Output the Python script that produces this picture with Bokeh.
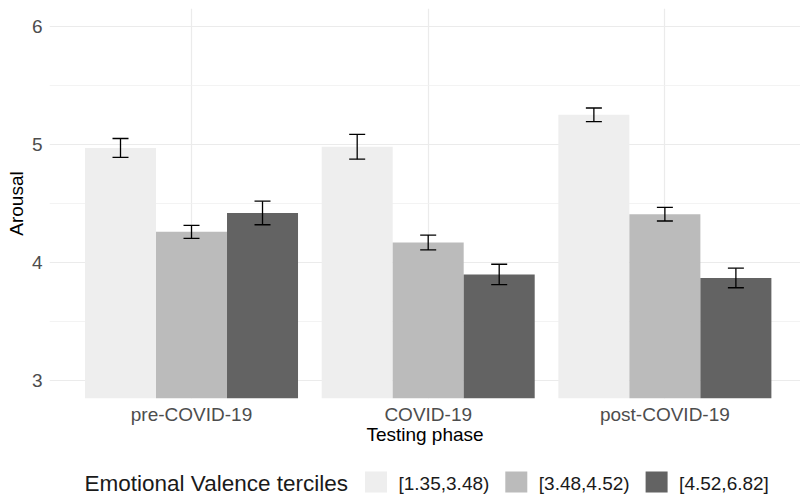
from bokeh.plotting import figure
from bokeh.models import ColumnDataSource, Range1d, FixedTicker, Whisker, TeeHead
from bokeh.layouts import column
from bokeh.embed import file_html
from bokeh.resources import INLINE
from bokeh.core.properties import value

# Testing phases (x categories) and emotional valence terciles (fill groups)
phases = ["pre-COVID-19", "COVID-19", "post-COVID-19"]
terciles = ["[1.35,3.48)", "[3.48,4.52)", "[4.52,6.82]"]
fills = ["#EEEEEE", "#BBBBBB", "#636363"]

# Mean arousal per phase, one list per valence tercile
arousal_low = [4.97, 4.98, 5.25]
arousal_mid = [4.26, 4.17, 4.41]
arousal_high = [4.42, 3.90, 3.87]

# Standard errors of the means
se_low = [0.080, 0.105, 0.058]
se_mid = [0.055, 0.063, 0.058]
se_high = [0.100, 0.086, 0.083]

FONT = "Liberation Sans"
dodge_width = 0.9
bar_w = dodge_width / len(terciles)
FRAME_LEFT = 49

xs, means, lowers, uppers, cols = [], [], [], [], []
for j, (m_list, s_list) in enumerate(zip([arousal_low, arousal_mid, arousal_high],
                                         [se_low, se_mid, se_high])):
    for i, (m, s) in enumerate(zip(m_list, s_list)):
        xs.append(i + 1 + (j - 1) * bar_w)
        means.append(m)
        lowers.append(m - s)
        uppers.append(m + s)
        cols.append(fills[j])

src = ColumnDataSource(dict(x=xs, mean=means, lower=lowers, upper=uppers, fill=cols))

p = figure(width=800, height=455,
           x_range=Range1d(0.4, 3.573), y_range=Range1d(2.85, 6.15),
           output_backend="svg", toolbar_location=None,
           min_border_left=FRAME_LEFT, min_border_right=0, min_border_top=8,
           min_border_bottom=57)
p.outline_line_color = None
p.background_fill_color = "white"
p.border_fill_color = "white"

p.vbar(x="x", top="mean", bottom=0, width=bar_w, fill_color="fill",
       line_color=None, source=src)

err = Whisker(source=src, base="x", upper="upper", lower="lower",
              line_color="black", line_width=1.3, level="overlay",
              upper_head=TeeHead(size=16, line_color="black", line_width=1.3),
              lower_head=TeeHead(size=16, line_color="black", line_width=1.3))
p.add_layout(err)

# axes
p.xaxis.ticker = FixedTicker(ticks=[1, 2, 3])
p.xaxis.major_label_overrides = {i + 1: name for i, name in enumerate(phases)}
p.yaxis.ticker = FixedTicker(ticks=[3, 4, 5, 6], minor_ticks=[3.5, 4.5, 5.5])
p.xaxis.axis_label = "Testing phase"
p.yaxis.axis_label = "Arousal"

for ax in (p.xaxis, p.yaxis):
    ax.axis_line_color = None
    ax.major_tick_line_color = None
    ax.minor_tick_line_color = None
    ax.major_tick_out = 0
    ax.minor_tick_out = 0
    ax.major_label_text_font = FONT
    ax.major_label_text_font_size = "19px"
    ax.major_label_text_color = "#4D4D4D"
    ax.axis_label_text_font = FONT
    ax.axis_label_text_font_size = "19px"
    ax.axis_label_text_font_style = "normal"
    ax.axis_label_text_color = "black"

p.xaxis.major_label_standoff = 5
p.xaxis.axis_label_standoff = -4
p.yaxis.major_label_standoff = 7
p.yaxis.axis_label_standoff = 2

# grid
p.grid.grid_line_color = "#EBEBEB"
p.grid.grid_line_width = 1.2
p.ygrid.minor_grid_line_color = "#F0F0F0"
p.ygrid.minor_grid_line_width = 0.8
p.xgrid.minor_grid_line_color = None

# legend strip below the plot; its frame lines up with the main frame,
# so the x range is given in page pixels from FRAME_LEFT to the right edge
lg = figure(width=800, height=42, x_range=Range1d(FRAME_LEFT, 800),
            y_range=Range1d(497, 455),
            x_axis_type=None, y_axis_type=None, output_backend="svg",
            toolbar_location=None, min_border=0, min_border_left=FRAME_LEFT)
lg.outline_line_color = None
lg.grid.visible = False

key_x0, key_step, key_size = 364.5, 140.3, 22
key_left = [key_x0 + k * key_step for k in range(len(terciles))]
lg.quad(left=key_left, right=[k + key_size for k in key_left],
        top=[471] * len(terciles), bottom=[492] * len(terciles),
        fill_color=fills, line_color=None)
lg.text(x=[k + 33.5 for k in key_left], y=[482.5] * len(terciles), text=terciles,
        text_font=value(FONT), text_font_size=value("19px"),
        text_color="#1A1A1A", text_baseline="middle", text_align="left")
lg.text(x=[84], y=[482.5], text=["Emotional Valence terciles"],
        text_font=value(FONT), text_font_size=value("22.5px"),
        text_color="#1A1A1A", text_baseline="middle", text_align="left")

layout = column(p, lg, spacing=0)
open("out.html", "w").write(file_html(layout, INLINE))
